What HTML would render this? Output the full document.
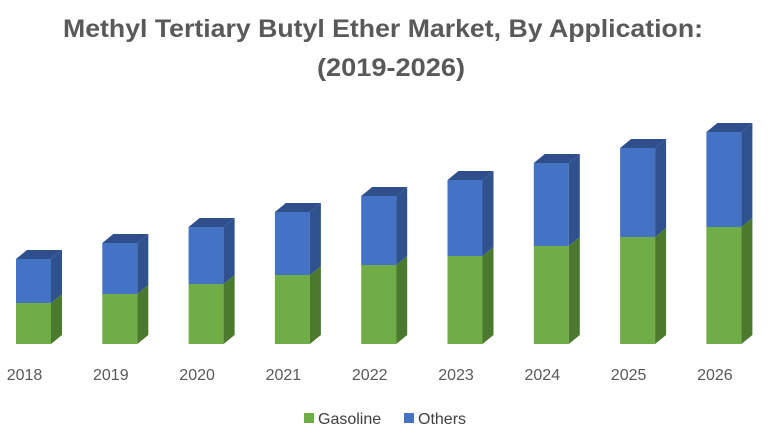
<!DOCTYPE html>
<html><head><meta charset="utf-8"><style>
body{margin:0;background:#fff;}
svg{display:block;font-family:"Liberation Sans",sans-serif;}
</style></head><body>
<svg id="chart" width="780" height="440">
<text x="383" y="37" text-anchor="middle" font-size="25" font-weight="bold" fill="#595959" textLength="640" lengthAdjust="spacingAndGlyphs">Methyl Tertiary Butyl Ether Market, By Application:</text>
<text x="391" y="76" text-anchor="middle" font-size="25" font-weight="bold" fill="#595959" textLength="148" lengthAdjust="spacingAndGlyphs">(2019-2026)</text>
<g id="bars"></g>
<g id="labels"></g>
<g>
<rect x="304" y="413" width="10" height="10" fill="#70ad47"/>
<text x="318" y="424" font-size="16" fill="#404040">Gasoline</text>
<rect x="404" y="413" width="10" height="10" fill="#4472c4"/>
<text x="418" y="424" font-size="16" fill="#404040">Others</text>
</g>
</svg>
<script>
const categories=["2018","2019","2020","2021","2022","2023","2024","2025","2026"];
const gasoline=[41,50,60,69,79,88,98,107,117];
const others=[44,51,57,63,69,76,83,89,95];
const ns="http://www.w3.org/2000/svg";
const baseY=344,x0=16,step=86.3,bw=35,dx=11,dy=9;
function xPos(i){return x0+i*step;}
function yPos(v){return baseY-v;}
const bars=document.getElementById('bars'),labels=document.getElementById('labels');
function poly(pts,fill,name){
  const p=document.createElementNS(ns,'polygon');
  p.setAttribute('points',pts.map(a=>a.join(',')).join(' '));
  p.setAttribute('fill',fill);
  
  
  bars.appendChild(p);
}
categories.forEach((c,i)=>{
  const x=xPos(i),g=gasoline[i],o=others[i];
  const yg=yPos(g),yt=yPos(g+o);
  poly([[x,baseY],[x+bw,baseY],[x+bw,yg],[x,yg]],'#70ad47','bar-gasoline-'+c);
  poly([[x+bw,baseY],[x+bw+dx,baseY-dy],[x+bw+dx,yg-dy],[x+bw,yg]],'#4b7a2f','bar-gasoline-side-'+c);
  poly([[x,yg],[x+bw,yg],[x+bw,yt],[x,yt]],'#4472c4','bar-others-'+c);
  poly([[x+bw,yg],[x+bw+dx,yg-dy],[x+bw+dx,yt-dy],[x+bw,yt]],'#2f528f','bar-others-side-'+c);
  poly([[x,yt],[x+bw,yt],[x+bw+dx,yt-dy],[x+dx,yt-dy]],'#2e4f8c','bar-others-top-'+c);
  const t=document.createElementNS(ns,'text');
  t.setAttribute('x',x+bw/2-9);t.setAttribute('y',380);
  t.setAttribute('text-anchor','middle');t.setAttribute('font-size','16');t.setAttribute('fill','#595959');
  t.textContent=c;
  
  
  labels.appendChild(t);
});
</script>
</body></html>
